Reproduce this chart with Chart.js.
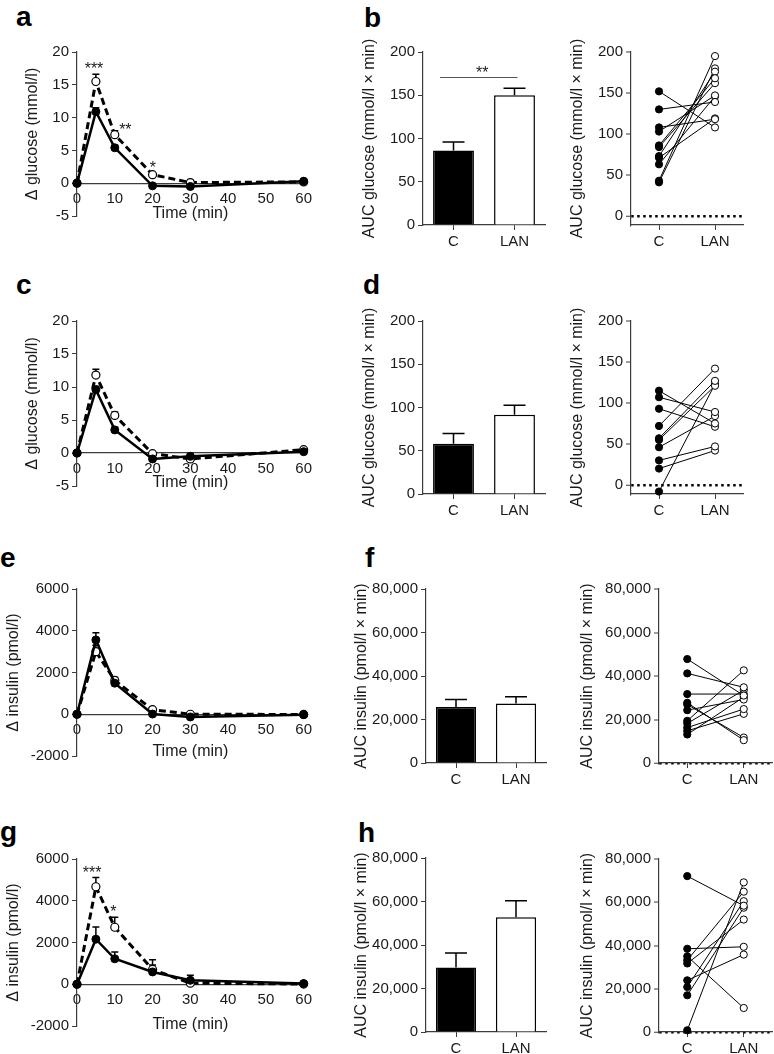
<!DOCTYPE html>
<html>
<head>
<meta charset="utf-8">
<script src="https://cdn.jsdelivr.net/npm/chart.js@4.4.1/dist/chart.umd.min.js"></script>
<style>
  html, body { margin: 0; padding: 0; background: #fff; }
  body { width: 774px; height: 1054px; position: relative; overflow: hidden; font-family: "Liberation Sans", Arial, sans-serif; }
  canvas { position: absolute; }
  .tag { position: absolute; font-weight: bold; font-size: 28px; line-height: 28px; color: #000; }
</style>
</head>
<body>
<div class="tag" style="left:16px;top:3px">a</div>
<div class="tag" style="left:364px;top:4px">b</div>
<div class="tag" style="left:16px;top:271px">c</div>
<div class="tag" style="left:363px;top:271px">d</div>
<div class="tag" style="left:0px;top:544px">e</div>
<div class="tag" style="left:365px;top:544px">f</div>
<div class="tag" style="left:0px;top:818px">g</div>
<div class="tag" style="left:358px;top:819px">h</div>
<script>
// ---- données ----
const timePoints = [0, 5, 10, 20, 30, 60];
const groupLabels = ['C', 'LAN'];

// a : glucose (1er test)
const gluA_C = [0, 10.9, 5.4, -0.4, -0.5, 0.3];
const gluA_C_err = [0, 0.6, 0.4, 0.2, 0.2, 0.2];
const gluA_LAN = [0, 15.5, 7.4, 1.3, 0.1, 0.2];
const gluA_LAN_err = [0, 1.1, 0.6, 0.3, 0.2, 0.2];
const gluA_stars = ['***', '**', '*'];
const gluA_starX = [4.5, 12.8, 20.1];
const gluA_starY = [17.9, 8.7, 2.85];

// b : AUC glucose
const aucGluB = [86, 150];
const aucGluB_err = [10, 8];
const pairGluB_C = [152, 130, 108, 103, 86, 84, 73, 71, 63, 43, 41];
const pairGluB_LAN = [108, 139, 118, 147, 168, 162, 176, 119, 146, 195, 180];

// c : glucose (2e test)
const gluC_C = [0, 9.6, 3.5, -0.9, -0.5, 0.2];
const gluC_C_err = [0, 0.5, 0.4, 0.3, 0.3, 0.2];
const gluC_LAN = [0, 11.8, 5.7, -0.1, -0.9, 0.5];
const gluC_LAN_err = [0, 0.9, 0.5, 0.3, 0.3, 0.3];

// d : AUC glucose
const aucGluD = [58, 91.5];
const aucGluD_err = [12, 11];
const pairGluD_C = [115, 107, 93, 72, 57, 55, 46, 30, 20, -8];
const pairGluD_LAN = [75, 89, 71, 142, 127, 121, 84, 47, 42, 123];

// e : insuline (1er test)
const insE_C = [0, 3560, 1490, 10, -130, -20];
const insE_C_err = [0, 350, 150, 80, 60, 40];
const insE_LAN = [0, 3000, 1620, 220, 0, -10];
const insE_LAN_err = [0, 300, 150, 100, 50, 40];

// f : AUC insuline
const aucInsF = [25800, 27400];
const aucInsF_err = [3400, 3100];
const pairInsF_C = [47800, 41200, 31700, 27700, 26900, 24300, 19400, 18200, 16300, 14800, 13100];
const pairInsF_LAN = [31000, 34800, 31700, 10500, 11700, 29200, 42600, 33500, 24800, 22600, 30300];

// g : insuline (2e test)
const insG_C = [0, 2160, 1220, 590, 190, 30];
const insG_C_err = [0, 580, 320, 330, 240, 60];
const insG_LAN = [0, 4670, 2730, 710, 50, 10];
const insG_LAN_err = [0, 440, 480, 460, 40, 40];
const insG_stars = ['***', '*'];
const insG_starX = [4.0, 9.6];
const insG_starY = [5490, 3625];

// h : AUC insuline
const aucInsH = [29700, 52800];
const aucInsH_err = [6600, 7500];
const pairInsH_C = [72100, 38500, 35000, 33200, 31700, 23900, 20800, 17000, 800];
const pairInsH_LAN = [58400, 39400, 11100, 64900, 52000, 35800, 60500, 57500, 69200];

// ---- style ----
const FONT = '"Liberation Sans", Arial, sans-serif';
const AXIS = '#3c3c3c';
const TXT = '#1a1a1a';
Chart.defaults.font.family = FONT;
Chart.defaults.font.size = 15;
Chart.defaults.color = TXT;

// Barres d'erreur (vers le haut seulement)
const errorBars = {
    id: 'errorBars',
    beforeDatasetsDraw(chart) {
        const ctx = chart.ctx;
        const yScale = chart.scales.y;
        const cap = chart.config.type === 'bar' ? 22 : 7;
        chart.data.datasets.forEach((ds, di) => {
            if (!ds.errors) return;
            const meta = chart.getDatasetMeta(di);
            meta.data.forEach((el, i) => {
                const err = ds.errors[i];
                if (!err) return;
                const raw = ds.data[i];
                const v = typeof raw === 'object' ? raw.y : raw;
                const y0 = yScale.getPixelForValue(v);
                const y1 = yScale.getPixelForValue(v + err);
                ctx.save();
                ctx.strokeStyle = '#000';
                ctx.lineWidth = 1.5;
                ctx.beginPath();
                ctx.moveTo(el.x, y0);
                ctx.lineTo(el.x, y1);
                ctx.moveTo(el.x - cap / 2, y1);
                ctx.lineTo(el.x + cap / 2, y1);
                ctx.stroke();
                ctx.restore();
            });
        });
    }
};

// Étoiles de significativité et crochet
function annotate(texts, xs, ys, bracket) {
    return {
        id: 'annotate',
        afterDatasetsDraw(chart) {
            const { ctx, scales: { x, y } } = chart;
            ctx.save();
            ctx.fillStyle = TXT;
            ctx.textAlign = 'center';
            ctx.textBaseline = 'middle';
            ctx.font = '16px ' + FONT;
            texts.forEach((t, i) => {
                ctx.fillText(t, x.getPixelForValue(xs[i]), y.getPixelForValue(ys[i]) + 4);
            });
            if (bracket) {
                const py = Math.round(y.getPixelForValue(bracket[2])) + 0.5;
                ctx.strokeStyle = '#555';
                ctx.lineWidth = 1;
                ctx.beginPath();
                ctx.moveTo(x.getPixelForValue(bracket[0]), py);
                ctx.lineTo(x.getPixelForValue(bracket[1]), py);
                ctx.stroke();
            }
            ctx.restore();
        }
    };
}

// Position d'un panneau : zone du graphique (L,T,R,B) en pixels de page
function frame(L, T, R, B, titleX, xH, padRight, padBottom) {
    const left = Math.round(titleX - 13.6);
    const top = Math.round(T) - 14;
    return {
        left, top,
        width: Math.round(R) - left + padRight,
        height: 14 + Math.round(B - T) + xH + padBottom,
        yW: Math.round(L) - left,
        xH, padRight, padBottom
    };
}

function addCanvas(f) {
    const c = document.createElement('canvas');
    c.width = f.width;
    c.height = f.height;
    c.style.left = f.left + 'px';
    c.style.top = f.top + 'px';
    c.style.width = f.width + 'px';
    c.style.height = f.height + 'px';
    document.body.appendChild(c);
    return c;
}

function yAxis(f, title, min, max, step, extra) {
    return Object.assign({
        min, max,
        ticks: { stepSize: step, padding: 3, color: TXT, font: { size: 15 } },
        grid: { display: true, drawOnChartArea: false, drawTicks: true, tickLength: 5, color: AXIS, tickColor: AXIS, tickWidth: 1 },
        border: { display: true, color: AXIS, width: 1.2 },
        title: { display: true, text: title, color: TXT, font: { size: 16 }, padding: { top: 4, bottom: 4 } },
        afterFit: s => { s.width = f.yW; }
    }, extra || {});
}

function baseOptions(f) {
    return {
        responsive: false,
        animation: false,
        events: [],
        layout: { padding: { top: 14, left: 0, right: f.padRight, bottom: f.padBottom } },
        plugins: { legend: { display: false }, tooltip: { enabled: false } }
    };
}

// Courbes en fonction du temps (axe x posé sur y = 0)
function timeChart(f, titleH, title, cVals, cErr, lanVals, lanErr, yMin, yMax, yStep, plugins) {
    const opts = baseOptions(f);
    opts.scales = {
        x: {
            type: 'linear', min: 0, max: 60, position: { y: 0 },
            ticks: { stepSize: 10, padding: 7, color: TXT, font: { size: 15 } },
            grid: { display: true, drawOnChartArea: false, drawTicks: false },
            border: { display: true, color: AXIS, width: 1.2 },
            title: { display: true, text: 'Time (min)', color: TXT, font: { size: 16 }, padding: { top: 4, bottom: 4 } },
            afterFit: s => { s.height = titleH; }
        },
        y: yAxis(f, title, yMin, yMax, yStep, {})
    };
    opts.scales.y.ticks.callback = v => String(v);
    return new Chart(addCanvas(f), {
        type: 'line',
        data: {
            datasets: [
                {
                    label: 'C',
                    data: timePoints.map((t, i) => ({ x: t, y: cVals[i] })),
                    errors: cErr,
                    borderColor: '#000', borderWidth: 2.5,
                    pointRadius: 4, pointBackgroundColor: '#000', pointBorderColor: '#000', pointBorderWidth: 1,
                    tension: 0, clip: false
                },
                {
                    label: 'LAN',
                    data: timePoints.map((t, i) => ({ x: t, y: lanVals[i] })),
                    errors: lanErr,
                    borderColor: '#000', borderWidth: 3, borderDash: [7, 4],
                    pointRadius: 4, pointBackgroundColor: '#fff', pointBorderColor: '#000', pointBorderWidth: 1.2,
                    tension: 0, clip: false
                }
            ]
        },
        options: opts,
        plugins: [errorBars].concat(plugins || [])
    });
}

function categoryX(f) {
    return {
        type: 'category', offset: true,
        ticks: { padding: 3, color: TXT, font: { size: 15 } },
        grid: { display: true, offset: false, drawOnChartArea: false, drawTicks: true, tickLength: 5, color: AXIS, tickColor: AXIS, tickWidth: 1 },
        border: { display: true, color: AXIS, width: 1.2 },
        afterFit: s => { s.height = f.xH; }
    };
}

// Histogrammes moyenne + erreur
function barChart(f, title, means, errs, yMax, yStep, plugins) {
    const opts = baseOptions(f);
    opts.scales = { x: categoryX(f), y: yAxis(f, title, 0, yMax, yStep) };
    return new Chart(addCanvas(f), {
        type: 'bar',
        data: {
            labels: groupLabels,
            datasets: [{
                data: means,
                errors: errs,
                backgroundColor: ['#000', '#fff'],
                borderColor: '#000',
                borderWidth: 1.5,
                barPercentage: 0.67,
                categoryPercentage: 1
            }]
        },
        options: opts,
        plugins: [errorBars].concat(plugins || [])
    });
}

// Valeurs individuelles appariées
function pairChart(f, title, cVals, lanVals, yMin, yMax, yTicks) {
    const opts = baseOptions(f);
    const yScale = yAxis(f, title, yMin, yMax, undefined, {
        afterBuildTicks: s => { s.ticks = yTicks.map(v => ({ value: v })); }
    });
    yScale.grid = {
        display: true, drawOnChartArea: true, drawTicks: true, tickLength: 5,
        color: c => (c.tick && c.tick.value === 0 ? '#000' : 'rgba(0,0,0,0)'),
        lineWidth: c => (c.tick && c.tick.value === 0 ? 2.5 : 0),
        tickColor: AXIS, tickWidth: 1
    };
    yScale.border = { display: true, color: AXIS, width: 1.2, dash: [2.5, 3.5] };
    opts.scales = { x: categoryX(f), y: yScale };
    return new Chart(addCanvas(f), {
        type: 'line',
        data: {
            labels: groupLabels,
            datasets: cVals.map((c, i) => ({
                data: [c, lanVals[i]],
                borderColor: '#000', borderWidth: 1,
                pointRadius: 3.6,
                pointBackgroundColor: ['#000', '#fff'],
                pointBorderColor: '#000', pointBorderWidth: 1,
                tension: 0, clip: false
            }))
        },
        options: opts
    });
}

const gluTitle = 'Δ glucose (mmol/l)';
const insTitle = 'Δ insulin (pmol/l)';
const aucGluTitle = 'AUC glucose (mmol/l × min)';
const aucInsTitle = 'AUC insulin (pmol/l × min)';
const gluPairTicks = [0, 50, 100, 150, 200];
const insPairTicks = [0, 20000, 40000, 60000, 80000];

// Ligne 1
timeChart(frame(77, 52, 305, 216, 33, 0, 14, 16), 44, gluTitle, gluA_C, gluA_C_err, gluA_LAN, gluA_LAN_err, -5, 20, 5,
    [annotate(gluA_stars, gluA_starX, gluA_starY)]);
barChart(frame(423, 52, 545, 225, 370, 30, 6, 4), aucGluTitle, aucGluB, aucGluB_err, 200, 50,
    [annotate(['**'], [0.47], [180], [-0.22, 1.05, 171])]);
pairChart(frame(631, 52, 743, 225, 578, 30, 6, 4), aucGluTitle, pairGluB_C, pairGluB_LAN, -11, 200, gluPairTicks);

// Ligne 2
timeChart(frame(77, 321, 305, 485.5, 33, 0, 14, 16), 43, gluTitle, gluC_C, gluC_C_err, gluC_LAN, gluC_LAN_err, -5, 20, 5);
barChart(frame(423, 321, 545, 494, 370, 30, 6, 4), aucGluTitle, aucGluD, aucGluD_err, 200, 50);
pairChart(frame(631, 321, 743, 494, 578, 30, 6, 4), aucGluTitle, pairGluD_C, pairGluD_LAN, -11, 200, gluPairTicks);

// Ligne 3
timeChart(frame(77, 589, 305, 756, 14, 0, 14, 16), 51, insTitle, insE_C, insE_C_err, insE_LAN, insE_LAN_err, -2000, 6000, 2000);
barChart(frame(426, 589, 546, 763, 362, 30, 6, 4), aucInsTitle, aucInsF, aucInsF_err, 80000, 20000);
pairChart(frame(659, 589, 773, 763, 588, 30, 4, 4), aucInsTitle, pairInsF_C, pairInsF_LAN, 0, 80000, insPairTicks);

// Ligne 4
timeChart(frame(77, 858.5, 305, 1025.5, 14, 0, 14, 16), 54, insTitle, insG_C, insG_C_err, insG_LAN, insG_LAN_err, -2000, 6000, 2000,
    [annotate(insG_stars, insG_starX, insG_starY)]);
barChart(frame(426, 858, 546, 1031.5, 362, 30, 6, 4), aucInsTitle, aucInsH, aucInsH_err, 80000, 20000);
pairChart(frame(659, 859, 773, 1032, 588, 30, 4, 4), aucInsTitle, pairInsH_C, pairInsH_LAN, 0, 80000, insPairTicks);
</script>
</body>
</html>
